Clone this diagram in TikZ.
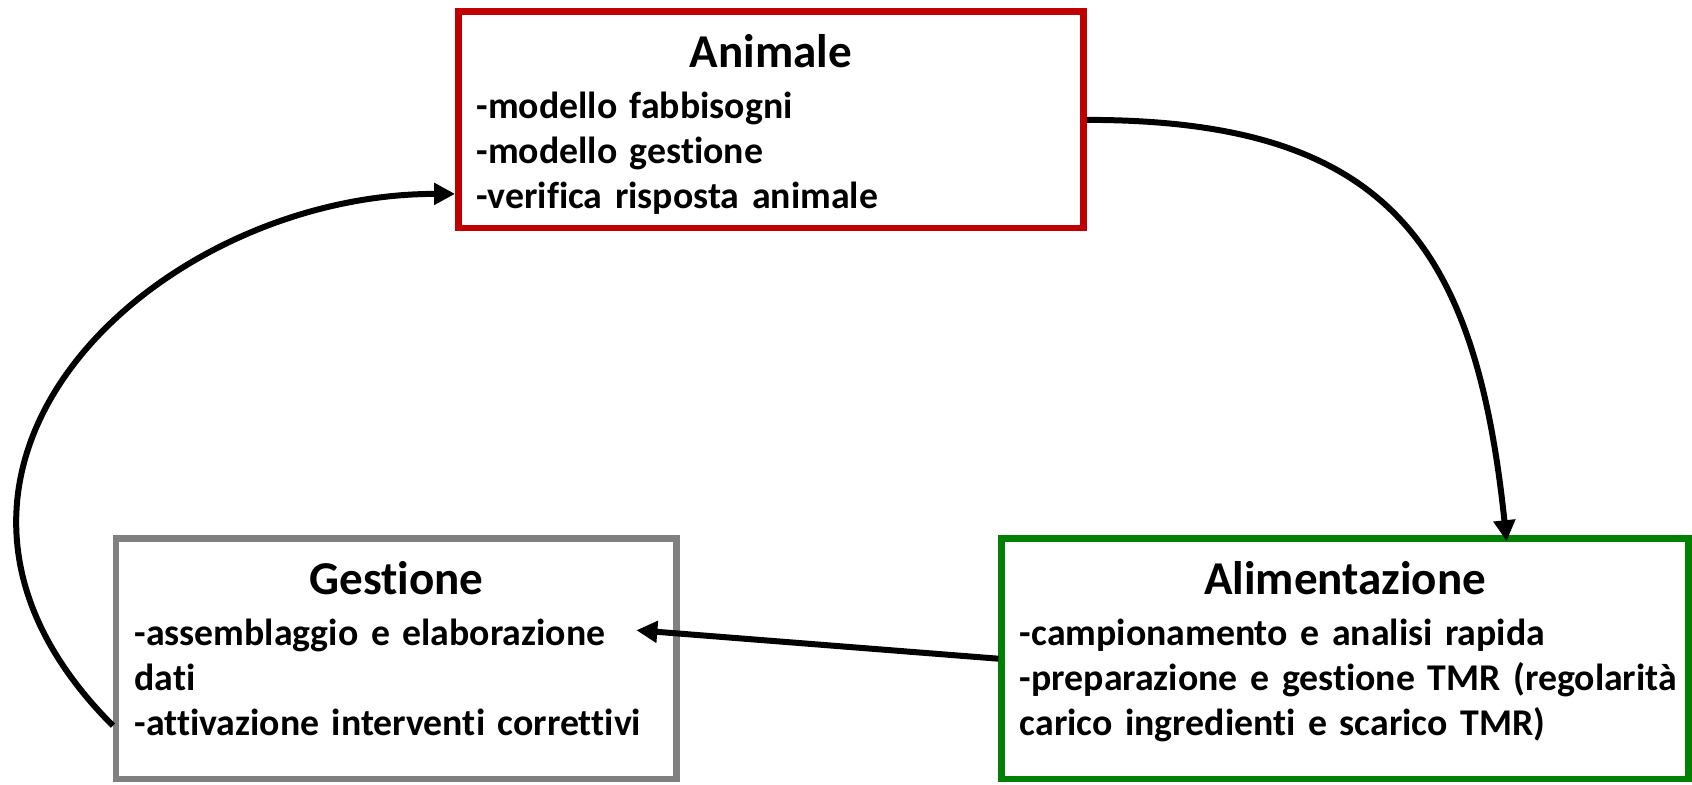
\documentclass[tikz,border=0pt]{standalone}
\usepackage{fontspec}
\setmainfont{Carlito}[Ligatures={NoCommon,NoContextual}]
\usepackage{tikz}
\usetikzlibrary{positioning,arrows.meta}
\usepackage{xcolor}
\definecolor{animalred}{HTML}{C00000}
\definecolor{feedgreen}{HTML}{008000}
\definecolor{mgmtgray}{HTML}{808080}
\newcommand{\boxhead}[1]{{\centering\fontsize{26.8}{30}\selectfont #1\par}\vspace{3.4pt}}

\begin{document}
\begin{tikzpicture}[
  x=0.02cm, y=-0.02cm,
  font=\bfseries\fontsize{21.5}{25.6}\selectfont,
  box/.style={draw, line width=0.13cm, inner xsep=0.365cm, inner ysep=0pt, align=left, text height=1.12cm},
  arrow/.style={-{Triangle[length=0.42cm, width=0.42cm]}, line width=0.12cm}
]
\useasboundingbox (0,0) rectangle (1692,784);

\node[box, draw=animalred, minimum width=12.51cm, text depth=3.21cm, text width=11.78cm] (ani) at (771,119.9)
  {\boxhead{Animale}-modello fabbisogni\\-modello gestione\\-verifica risposta animale};
\node[box, draw=mgmtgray, minimum width=11.21cm, text depth=3.69cm, text width=10.48cm] (ges) at (396.4,658.7)
  {\boxhead{Gestione}-assemblaggio e elaborazione\\dati\\-attivazione interventi correttivi};
\node[box, draw=feedgreen, minimum width=13.74cm, text depth=3.69cm, text width=13.01cm] (ali) at (1345.1,658.7)
  {\boxhead{Alimentazione}-campionamento e analisi rapida\\\mbox{-preparazione e gestione TMR (regolarità}\\carico ingredienti e scarico TMR)};

\coordinate (gesin) at ([xshift=-0.87cm, yshift=0.57cm]ges.east);

\draw[arrow] (ani.east) to[out=0, in=96, out distance=6cm, in distance=6cm] ([xshift=3.23cm, yshift=-0.12cm]ali.north);
\draw[arrow] (ali.west) -- (gesin);
\draw[arrow] ([yshift=-1.34cm]ges.west) to[out=135, in=180, out distance=7.2cm, in distance=6cm] ([yshift=-1.48cm]ani.west);
\end{tikzpicture}
\end{document}
